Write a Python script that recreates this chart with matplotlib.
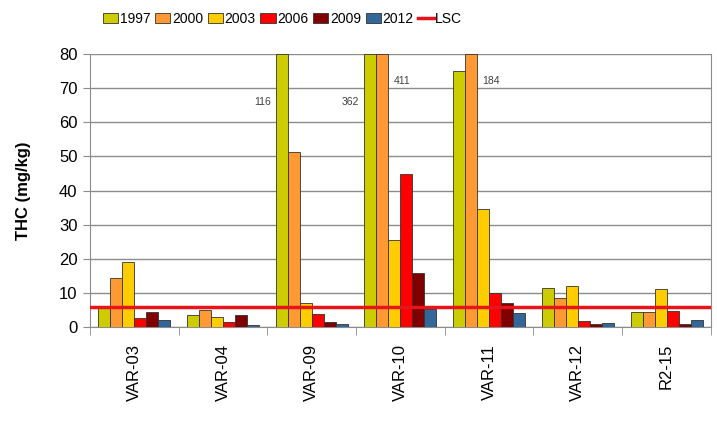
import numpy as np
import matplotlib.pyplot as plt

plt.rcParams['font.family'] = ['Liberation Sans', 'DejaVu Sans']

# data
sites = ["VAR-03", "VAR-04", "VAR-09", "VAR-10", "VAR-11", "VAR-12", "R2-15"]
years = ["1997", "2000", "2003", "2006", "2009", "2012"]
v1997 = [6.0, 3.5, 116, 362, 75.0, 11.6, 4.6]
v2000 = [14.4, 5.1, 51.3, 411, 184, 8.5, 4.6]
v2003 = [19.0, 2.9, 7.0, 25.6, 34.6, 12.1, 11.2]
v2006 = [2.6, 1.6, 3.9, 44.9, 10.0, 1.8, 4.8]
v2009 = [4.4, 3.6, 1.5, 16.0, 7.2, 1.0, 1.0]
v2012 = [2.1, 0.6, 0.9, 5.3, 4.1, 1.3, 2.1]
lsc = 6.0
colors = ["#CCCC00", "#FF9933", "#FFCC00", "#FF0000", "#800000", "#336699"]

# off-scale values written beside the clipped bars: (site, year, label, side, height)
off_scale = [(2, 0, "116", "left", 66), (3, 0, "362", "left", 66),
             (3, 1, "411", "right", 72), (4, 1, "184", "right", 72)]

series = [v1997, v2000, v2003, v2006, v2009, v2012]
ymax = 80

fig = plt.figure(figsize=(7.17, 4.42), dpi=100)
ax = fig.add_axes([0.1255, 0.2595, 0.866, 0.6185])

x = np.arange(len(sites))
w = 1 / (len(years) + 1.4)
handles = []
for i, (vals, c, yr) in enumerate(zip(series, colors, years)):
    pos = x + (i - 2.5) * w
    b = ax.bar(pos, np.minimum(vals, ymax), width=w, color=c,
               edgecolor="#333333", linewidth=0.6, label=yr, zorder=3)
    handles.append(b)

for si, yi, txt, side, yy in off_scale:
    px = x[si] + (yi - 2.5) * w
    if side == "left":
        ax.text(px - w / 2 - 0.06, yy, txt, ha="right", va="center",
                fontsize=7.5, color="#404040", zorder=4)
    else:
        ax.text(px + w / 2 + 0.06, yy, txt, ha="left", va="center",
                fontsize=7.5, color="#404040", zorder=4)

ln = ax.axhline(lsc, color="#E8141B", linewidth=2.5, zorder=4, label="LSC")

ax.set_xlim(-0.5, len(sites) - 0.5)
ax.set_ylim(0, ymax)
ax.set_yticks(range(0, 81, 10))
ax.yaxis.grid(True, color="#8C8C8C", linewidth=1, zorder=0)
ax.tick_params(axis="y", length=5, color="#8C8C8C", labelsize=12, pad=4)

ax.set_xticks(x)
ax.set_xticklabels(sites, rotation=90, fontsize=12)
ax.set_xticks(np.arange(len(sites) + 1) - 0.5, minor=True)
ax.tick_params(axis="x", which="major", length=0, pad=12)
ax.tick_params(axis="x", which="minor", length=6, color="#8C8C8C", direction="out")

ax.spines["top"].set_visible(False)
for s in ["left", "bottom", "right"]:
    ax.spines[s].set_color("#8C8C8C")

ax.set_ylabel("THC (mg/kg)", fontsize=12, fontweight="bold", labelpad=20)

fig.legend(handles + [ln], years + ["LSC"], loc="center",
           bbox_to_anchor=(0.394, 0.958), ncol=7, frameon=False,
           fontsize=10, handlelength=1.1, handleheight=0.75,
           handletextpad=0.1, columnspacing=0.35, borderaxespad=0)

fig.savefig("out.png", dpi=100)
